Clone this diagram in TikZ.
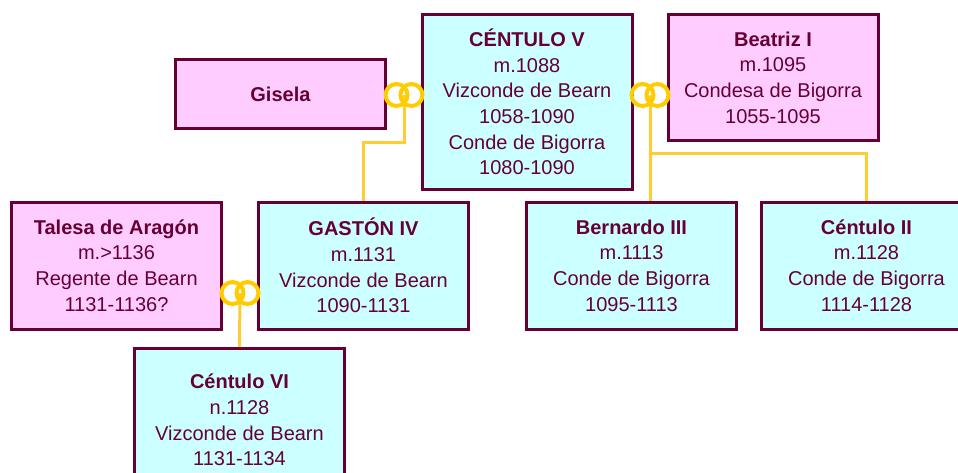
\documentclass[tikz,border=0pt]{standalone}
\usepackage{fontspec}
\setmainfont{Liberation Sans}
\usetikzlibrary{positioning}
\definecolor{boxline}{HTML}{660033}
\definecolor{femfill}{HTML}{FFCCFF}
\definecolor{manfill}{HTML}{CCFFFF}
\definecolor{ringgold}{HTML}{FFCC00}
\definecolor{linkgold}{HTML}{FFCC33}
\tikzset{
  person/.style={rectangle,draw=boxline,line width=2.25pt,text=boxline,align=center,
    minimum width=157.5pt,font=\fontsize{15}{19.2}\selectfont},
  man/.style={person,fill=manfill},
  woman/.style={person,fill=femfill},
  ring/.style={circle,draw=ringgold,line width=3pt,minimum size=16.5pt,inner sep=0pt},
  link/.style={draw=linkgold,line width=2.25pt}
}

\begin{document}
\begin{tikzpicture}[x=0.75pt,y=-0.75pt]
    \useasboundingbox (0,0) rectangle (958,472);
    \clip (0,0) rectangle (958,472);
    % first generation
    \node[man,minimum height=131.25pt] (centuloV) at (527,102)
        {\textbf{CÉNTULO V}\\m.1088\\Vizconde de Bearn\\1058-1090\\Conde de Bigorra\\1080-1090};
    \node[woman,minimum height=51.75pt] (gisela) at (280.5,94) {\textbf{Gisela}};
    \node[woman,minimum height=94.5pt] (beatriz) at (773,77.5)
        {\textbf{Beatriz I}\\m.1095\\Condesa de Bigorra\\1055-1095};
    % second generation
    \node[woman,minimum height=95.25pt] (talesa) at (116.5,265.5)
        {\textbf{Talesa de Aragón}\\m.>1136\\Regente de Bearn\\1131-1136?};
    \node[man,minimum height=95.25pt] (gaston) [right=25.5pt of talesa]
        {\textbf{GASTÓN IV}\\m.1131\\Vizconde de Bearn\\1090-1131};
    \node[man,minimum height=95.25pt] (bernardo) [right=41.25pt of gaston]
        {\textbf{Bernardo III}\\m.1113\\Conde de Bigorra\\1095-1113};
    \node[man,minimum height=95.25pt] (centuloII) [right=16.5pt of bernardo]
        {\textbf{Céntulo II}\\m.1128\\Conde de Bigorra\\1114-1128};
    % third generation
    \node[man,minimum height=107.25pt] (centuloVI) at (239.5,420)
        {\textbf{Céntulo VI}\\n.1128\\Vizconde de Bearn\\1131-1134};

    % marriages
    \coordinate (m1) at (404,95);
    \coordinate (m2) at (650,95);
    \coordinate (m3) at (240,293);

    \draw[link] (m1) -- ++(0,47) -| (gaston.north);
    \draw[link] (m2) -- (m2 |- bernardo.north);
    \draw[link] (m2) ++(0,58) -| (centuloII.north);
    \draw[link] (m3) -- (centuloVI.north);

    \foreach \m in {m1,m2,m3} {
        \node[ring] (\m l) at ([xshift=-5.6pt]\m) {};
        \node[ring] (\m r) at ([xshift=5.6pt]\m) {};
    }
\end{tikzpicture}
\end{document}
